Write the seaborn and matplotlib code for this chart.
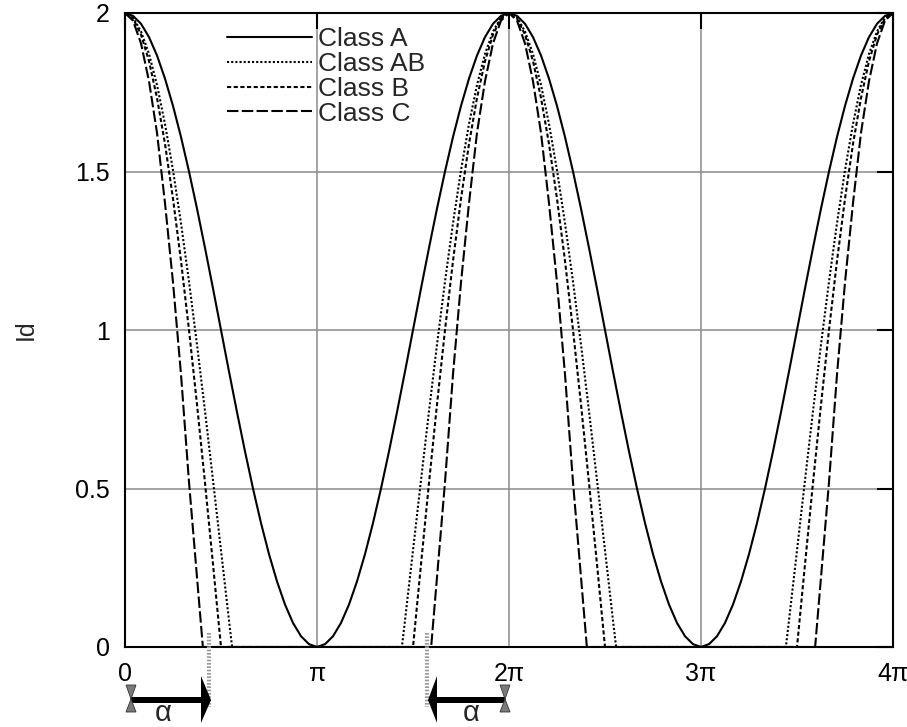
import numpy as np
import pandas as pd
import seaborn as sns
import matplotlib
matplotlib.use("Agg")
import matplotlib.pyplot as plt
from matplotlib.lines import Line2D
from matplotlib.patches import Polygon

# ---------------- data (phase in degrees, drain current Id) ----------------
phase_a = [0, 7.5, 15, 22.5, 30, 37.5, 45, 52.5, 60, 67.5, 75, 82.5, 90, 97.5, 105, 112.5,
           120, 127.5, 135, 142.5, 150, 157.5, 165, 172.5, 180, 187.5, 195, 202.5, 210, 217.5,
           225, 232.5, 240, 247.5, 255, 262.5, 270, 277.5, 285, 292.5, 300, 307.5, 315, 322.5,
           330, 337.5, 345, 352.5, 360, 367.5, 375, 382.5, 390, 397.5, 405, 412.5, 420, 427.5,
           435, 442.5, 450, 457.5, 465, 472.5, 480, 487.5, 495, 502.5, 510, 517.5, 525, 532.5,
           540, 547.5, 555, 562.5, 570, 577.5, 585, 592.5, 600, 607.5, 615, 622.5, 630, 637.5,
           645, 652.5, 660, 667.5, 675, 682.5, 690, 697.5, 705, 712.5, 720]
id_a = [2.0, 1.991, 1.966, 1.924, 1.866, 1.793, 1.707, 1.609, 1.5, 1.383, 1.259, 1.131, 1.0,
        0.869, 0.741, 0.617, 0.5, 0.391, 0.293, 0.207, 0.134, 0.076, 0.034, 0.009, 0.0,
        0.009, 0.034, 0.076, 0.134, 0.207, 0.293, 0.391, 0.5, 0.617, 0.741, 0.869, 1.0,
        1.131, 1.259, 1.383, 1.5, 1.609, 1.707, 1.793, 1.866, 1.924, 1.966, 1.991, 2.0,
        1.991, 1.966, 1.924, 1.866, 1.793, 1.707, 1.609, 1.5, 1.383, 1.259, 1.131, 1.0,
        0.869, 0.741, 0.617, 0.5, 0.391, 0.293, 0.207, 0.134, 0.076, 0.034, 0.009, 0.0,
        0.009, 0.034, 0.076, 0.134, 0.207, 0.293, 0.391, 0.5, 0.617, 0.741, 0.869, 1.0,
        1.131, 1.259, 1.383, 1.5, 1.609, 1.707, 1.793, 1.866, 1.924, 1.966, 1.991, 2.0]

phase_ab = [0, 7.5, 15, 22.5, 30, 37.5, 45, 52.5, 60, 67.5, 75, 82.5, 90, 97.5, 100.4,
            259.6, 262.5, 270, 277.5, 285, 292.5, 300, 307.5, 315, 322.5, 330, 337.5, 345, 352.5,
            360, 367.5, 375, 382.5, 390, 397.5, 405, 412.5, 420, 427.5, 435, 442.5, 450, 457.5,
            460.4, 619.6, 622.5, 630, 637.5, 645, 652.5, 660, 667.5, 675, 682.5, 690, 697.5,
            705, 712.5, 720]
id_ab = [2.0, 1.986, 1.942, 1.871, 1.773, 1.650, 1.504, 1.337, 1.153, 0.954, 0.744, 0.526,
         0.305, 0.084, 0.0,
         0.0, 0.084, 0.305, 0.526, 0.744, 0.954, 1.153, 1.337, 1.504, 1.650, 1.773, 1.871,
         1.942, 1.986, 2.0, 1.986, 1.942, 1.871, 1.773, 1.650, 1.504, 1.337, 1.153, 0.954,
         0.744, 0.526, 0.305, 0.084, 0.0,
         0.0, 0.084, 0.305, 0.526, 0.744, 0.954, 1.153, 1.337, 1.504, 1.650, 1.773, 1.871,
         1.942, 1.986, 2.0]

phase_b = [0, 7.5, 15, 22.5, 30, 37.5, 45, 52.5, 60, 67.5, 75, 82.5, 90,
           270, 277.5, 285, 292.5, 300, 307.5, 315, 322.5, 330, 337.5, 345, 352.5,
           360, 367.5, 375, 382.5, 390, 397.5, 405, 412.5, 420, 427.5, 435, 442.5, 450,
           630, 637.5, 645, 652.5, 660, 667.5, 675, 682.5, 690, 697.5, 705, 712.5, 720]
id_b = [2.0, 1.983, 1.932, 1.848, 1.732, 1.587, 1.414, 1.218, 1.0, 0.765, 0.518, 0.261, 0.0,
        0.0, 0.261, 0.518, 0.765, 1.0, 1.218, 1.414, 1.587, 1.732, 1.848, 1.932, 1.983,
        2.0, 1.983, 1.932, 1.848, 1.732, 1.587, 1.414, 1.218, 1.0, 0.765, 0.518, 0.261, 0.0,
        0.0, 0.261, 0.518, 0.765, 1.0, 1.218, 1.414, 1.587, 1.732, 1.848, 1.932, 1.983, 2.0]

phase_c = [0, 7.5, 15, 22.5, 30, 37.5, 45, 52.5, 60, 67.5, 73,
           287, 292.5, 300, 307.5, 315, 322.5, 330, 337.5, 345, 352.5,
           360, 367.5, 375, 382.5, 390, 397.5, 405, 412.5, 420, 427.5, 433,
           647, 652.5, 660, 667.5, 675, 682.5, 690, 697.5, 705, 712.5, 720]
id_c = [2.0, 1.976, 1.904, 1.785, 1.622, 1.40, 1.15, 0.86, 0.52, 0.22, 0.0,
        0.0, 0.22, 0.52, 0.86, 1.15, 1.40, 1.622, 1.785, 1.904, 1.976,
        2.0, 1.976, 1.904, 1.785, 1.622, 1.40, 1.15, 0.86, 0.52, 0.22, 0.0,
        0.0, 0.22, 0.52, 0.86, 1.15, 1.40, 1.622, 1.785, 1.904, 1.976, 2.0]

class_names = ["Class A", "Class AB", "Class B", "Class C"]
x_tick_vals = [0, 180, 360, 540, 720]
x_tick_labels = ["0", "π", "2π", "3π", "4π"]
y_tick_vals = [0, 0.5, 1, 1.5, 2]
y_tick_labels = ["0", "0.5", "1", "1.5", "2"]

# ---------------- figure ----------------
sns.set_theme(style="white")
plt.rcParams["font.family"] = ["Liberation Sans", "DejaVu Sans"]

W, H = 907, 727
fig = plt.figure(figsize=(W / 100, H / 100), dpi=100)
ax = fig.add_axes([125 / W, 1 - 647 / H, 768 / W, 634 / H])

frames = []
for name, ph, vals in zip(class_names, [phase_a, phase_ab, phase_b, phase_c],
                          [id_a, id_ab, id_b, id_c]):
    frames.append(pd.DataFrame({"phase": ph, "Id": vals, "cls": name}))
df = pd.concat(frames, ignore_index=True)

dash_map = {"Class A": "", "Class AB": (1, 1), "Class B": (2.0, 1.2), "Class C": (5.5, 1.6)}
sns.lineplot(data=df, x="phase", y="Id", style="cls", style_order=class_names,
             dashes=dash_map, color="black", linewidth=1.5, estimator=None,
             sort=False, legend=False, ax=ax)

ax.set_xlim(0, 720)
ax.set_ylim(0, 2)
ax.set_xticks(x_tick_vals, x_tick_labels)
ax.set_yticks(y_tick_vals, y_tick_labels)
ax.set_xlabel("")
ax.set_ylabel("Id", fontsize=18, labelpad=27)
ax.tick_params(direction="in", length=11.5, width=1.5, color="black",
               top=True, right=True, labelsize=18, labelcolor="black")
ax.tick_params(axis="x", pad=11)
ax.tick_params(axis="y", pad=11)
ax.set_axisbelow(True)
ax.grid(True, color="#8a8a8a", linewidth=1.1)
for s in ax.spines.values():
    s.set_linewidth(1.5)
    s.set_color("black")
    s.set_visible(True)

# legend
handles = [Line2D([], [], color="black", lw=1.5, linestyle="-"),
           Line2D([], [], color="black", lw=1.5, dashes=(1, 1)),
           Line2D([], [], color="black", lw=1.5, dashes=(2.0, 1.2)),
           Line2D([], [], color="black", lw=1.5, dashes=(5.5, 1.6))]
ax.legend(handles, class_names, loc="upper left", bbox_to_anchor=(0.1328, 0.978),
          frameon=False, fontsize=19, handlelength=3.22, handletextpad=0.23,
          labelspacing=0.035, borderpad=0, borderaxespad=0)

# ---------------- alpha annotations below the axis ----------------
inv = ax.transData.inverted()


def px(x, y):
    return inv.transform((x, H - y))


def draw_arrow(x_tail, x_base, x_tip, yc):
    sh = [px(x_tail, yc - 3), px(x_base, yc - 3), px(x_base, yc + 3), px(x_tail, yc + 3)]
    ax.add_patch(Polygon(sh, closed=True, facecolor="black", edgecolor="none",
                         clip_on=False, zorder=5))
    hd = [px(x_base, yc - 24), px(x_tip, yc), px(x_base, yc + 23)]
    ax.add_patch(Polygon(hd, closed=True, facecolor="black", edgecolor="none",
                         clip_on=False, zorder=5))


def draw_hourglass(xc, yc):
    pts = [px(xc - 5, yc - 14), px(xc + 5, yc - 14), px(xc, yc),
           px(xc + 5, yc + 13), px(xc - 5, yc + 13), px(xc, yc)]
    ax.add_patch(Polygon(pts, closed=True, facecolor="#7a7a7a", edgecolor="#333333",
                         linewidth=0.6, clip_on=False, zorder=6))


def draw_hatch(xc, y0, y1):
    (xa, ya), (_, yb) = px(xc, y0), px(xc, y1)
    ax.add_line(Line2D([xa, xa], [ya, yb], color="#9a9a9a", lw=3.0,
                       dashes=(0.4, 0.4), clip_on=False, zorder=4))


draw_hatch(209, 633, 707)
draw_arrow(131, 201, 211, 700)
draw_hourglass(131, 699)
a1 = px(163, 713)
ax.text(a1[0], a1[1], "α", fontsize=21, ha="center", va="center")

draw_hatch(427, 633, 707)
draw_arrow(505, 437, 428, 700)
draw_hourglass(505, 699)
a2 = px(471, 713)
ax.text(a2[0], a2[1], "α", fontsize=21, ha="center", va="center")

fig.savefig("out.png", dpi=100)
